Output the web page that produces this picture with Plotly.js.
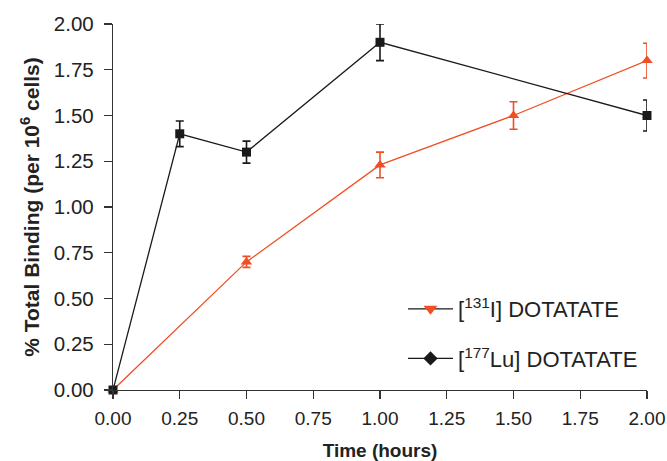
<!DOCTYPE html>
<html>
<head>
<meta charset="utf-8">
<script src="https://cdn.plot.ly/plotly-3.0.1.min.js"></script>
<style>html,body{margin:0;padding:0;background:#fff;}#chart{width:667px;height:461px;}</style>
</head>
<body>
<div id="chart"></div>
<script>
var timeI = [0, 0.5, 1.0, 1.5, 2.0];
var bindI = [0, 0.70, 1.23, 1.50, 1.80];
var errI  = [0, 0.03, 0.07, 0.075, 0.095];

var timeLu = [0, 0.25, 0.5, 1.0, 2.0];
var bindLu = [0, 1.40, 1.30, 1.90, 1.50];
var errLu  = [0, 0.07, 0.06, 0.10, 0.085];

var nameI = '[<sup>131</sup>I] DOTATATE';
var nameLu = '[<sup>177</sup>Lu] DOTATATE';
var tickVals = [0, 0.25, 0.5, 0.75, 1.0, 1.25, 1.5, 1.75, 2.0];

var red = '#F04E23';
var blk = '#1a1a1a';

var traces = [
  {x: timeI, y: bindI, type: 'scatter', mode: 'lines+markers', showlegend: false,
   line: {color: red, width: 1.3}, marker: {symbol: 'triangle-up', size: 10, color: red},
   error_y: {type: 'data', array: errI, visible: true, color: red, thickness: 1.6, width: 4}, cliponaxis: false},
  {x: timeLu, y: bindLu, type: 'scatter', mode: 'lines+markers', showlegend: false,
   line: {color: blk, width: 1.3}, marker: {symbol: 'square', size: 9, color: blk},
   error_y: {type: 'data', array: errLu, visible: true, color: blk, thickness: 1.6, width: 4}, cliponaxis: false},
  {x: [null], y: [null], type: 'scatter', mode: 'lines+markers', name: nameI, legendgroup: 'a',
   line: {color: blk, width: 1.3}, marker: {symbol: 'triangle-down', size: 12, color: red}},
  {x: [null], y: [null], type: 'scatter', mode: 'lines+markers', name: nameLu, legendgroup: 'b',
   line: {color: blk, width: 1.3}, marker: {symbol: 'diamond', size: 11, color: blk}}
];

var layout = {
  width: 667, height: 461,
  margin: {l: 113, r: 20, t: 24, b: 71},
  paper_bgcolor: '#fff', plot_bgcolor: '#fff',
  font: {family: 'Liberation Sans, Arial, sans-serif', size: 18, color: '#222'},
  showlegend: true,
  legend: {x: (403 - 113) / 534, y: (390 - 334) / 366, xanchor: 'left', yanchor: 'middle',
           traceorder: 'grouped', tracegroupgap: 18, itemwidth: 45,
           font: {size: 22, color: '#222'}, bgcolor: 'rgba(0,0,0,0)'},
  xaxis: {range: [0, 2], tickvals: tickVals, tickformat: '.2f', ticks: 'outside', ticklen: 8,
          tickwidth: 1.2, tickcolor: '#333', showline: true, linecolor: '#333', linewidth: 1.2,
          showgrid: false, zeroline: false, tickfont: {size: 19}, ticklabelstandoff: 3,
          title: {text: '<b>Time (hours)</b>', font: {size: 19}, standoff: 20}},
  yaxis: {range: [0, 2], tickvals: tickVals, tickformat: '.2f', ticks: 'outside', ticklen: 8,
          tickwidth: 1.2, tickcolor: '#333', showline: true, linecolor: '#333', linewidth: 1.2,
          showgrid: false, zeroline: false, tickfont: {size: 20.5}, ticklabelstandoff: 6,
          title: {text: '<b>% Total Binding (per 10<sup>6</sup> cells)</b>', font: {size: 21}, standoff: 8}}
};

Plotly.newPlot('chart', traces, layout, {displayModeBar: false, staticPlot: true});
</script>
</body>
</html>
